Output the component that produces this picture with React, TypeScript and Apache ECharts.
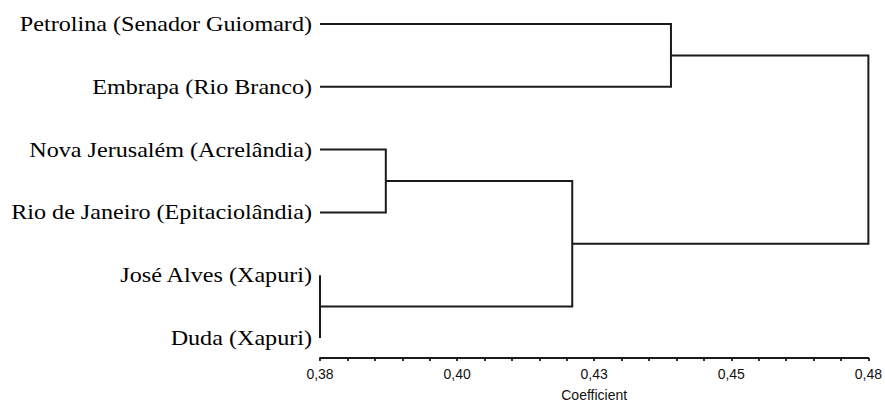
import React, { useEffect, useRef } from "react";
import * as echarts from "echarts";

// Leaves of the dendrogram, top to bottom
const leafNames = [
  "Petrolina (Senador Guiomard)",
  "Embrapa (Rio Branco)",
  "Nova Jerusalém (Acrelândia)",
  "Rio de Janeiro (Epitaciolândia)",
  "José Alves (Xapuri)",
  "Duda (Xapuri)",
];

// Merges (linkage): node id = leafNames.length + merge index
const mergeLeft = [4, 2, 7, 0, 9];
const mergeRight = [5, 3, 6, 1, 8];
const mergeCoef = [0.38, 0.392, 0.426, 0.444, 0.48];

// Coefficient axis
const axisMin = 0.38;
const axisMax = 0.48;
const tickStep = 0.005;
const labelTicks = [0.38, 0.405, 0.43, 0.455, 0.48];

const K = 1000; // axis works in thousandths to keep ticks exact

export default function App() {
  const ref = useRef<HTMLDivElement>(null);

  useEffect(() => {
    if (!ref.current) return;
    const chart = echarts.init(ref.current, null, { renderer: "svg" });

    const n = leafNames.length;
    const nodeX: number[] = [];
    const nodeY: number[] = [];
    leafNames.forEach((_, i) => {
      nodeX[i] = axisMin;
      nodeY[i] = i;
    });
    const links: number[][] = [];
    mergeCoef.forEach((c, k) => {
      const l = mergeLeft[k];
      const r = mergeRight[k];
      const id = n + k;
      nodeX[id] = c;
      nodeY[id] = (nodeY[l] + nodeY[r]) / 2;
      links.push([nodeX[l] * K, nodeY[l], nodeX[r] * K, nodeY[r], c * K]);
    });
    const leafData = leafNames.map((_, i) => [axisMin * K, i]);
    const labelSet = labelTicks.map((v) => Math.round(v * K));

    chart.setOption({
      animation: false,
      grid: { left: 320, right: 12, top: 24, bottom: 59 },
      xAxis: {
        type: "value",
        position: "bottom",
        min: Math.round(axisMin * K),
        max: Math.round(axisMax * K),
        interval: Math.round(tickStep * K),
        offset: 20,
        name: "Coefficient",
        nameLocation: "middle",
        nameGap: 30,
        nameTextStyle: { fontFamily: "Liberation Sans", fontSize: 14, color: "#111" },
        axisLine: { show: true, onZero: false, lineStyle: { color: "#1a1a1a", width: 1.8 } },
        axisTick: { show: true, length: 3, lineStyle: { color: "#1a1a1a", width: 1.8 } },
        splitLine: { show: false },
        axisLabel: {
          margin: 9,
          fontFamily: "Liberation Sans",
          fontSize: 14,
          color: "#111",
          formatter: (v: number) => {
            const r = Math.round(v);
            if (labelSet.indexOf(r) < 0) return "";
            return (Math.floor(r / 10) / 100).toFixed(2).replace(".", ",");
          },
        },
      },
      yAxis: {
        type: "value",
        inverse: true,
        min: 0,
        max: n - 1,
        show: false,
      },
      series: [
        {
          type: "custom",
          data: links,
          renderItem: (params: any, api: any) => {
            const x1 = api.value(0);
            const y1 = api.value(1);
            const x2 = api.value(2);
            const y2 = api.value(3);
            const xn = api.value(4);
            const pts = [
              api.coord([x1, y1]),
              api.coord([xn, y1]),
              api.coord([xn, y2]),
              api.coord([x2, y2]),
            ];
            return {
              type: "polyline",
              shape: { points: pts },
              style: { stroke: "#1a1a1a", lineWidth: 2, fill: null },
            };
          },
        },
        {
          type: "custom",
          data: leafData,
          renderItem: (params: any, api: any) => {
            const p = api.coord([api.value(0), api.value(1)]);
            return {
              type: "text",
              x: p[0] - 8,
              y: p[1],
              scaleX: 1.15,
              style: {
                text: leafNames[params.dataIndex],
                fontFamily: "Liberation Serif",
                fontSize: 21,
                fill: "#000",
                align: "right",
                verticalAlign: "middle",
              },
            };
          },
        },
      ],
    });

    return () => chart.dispose();
  }, []);

  return (
    <div
      ref={ref}
      style={{ position: "fixed", left: 0, top: 0, width: 885, height: 407, background: "#fff" }}
    />
  );
}
